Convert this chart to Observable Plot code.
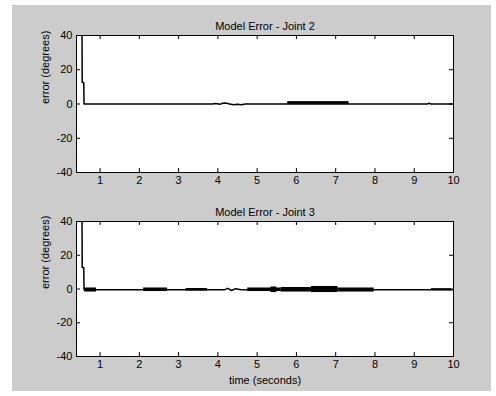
<!DOCTYPE html>
<html>
<head>
<meta charset="utf-8">
<script src="https://cdn.jsdelivr.net/npm/d3@7"></script>
<script src="https://cdn.jsdelivr.net/npm/@observablehq/plot@0.6"></script>
<style>
  html, body { margin: 0; padding: 0; background: #fff; }
  #page { position: relative; width: 496px; height: 396px; background: #fff; overflow: hidden; }
  #bg { position: absolute; left: 12px; top: 5px; width: 479px; height: 386px; background: #cccccc; }
  .panel { position: absolute; left: 0; }
</style>
</head>
<body>
<div id="page"><div id="bg"></div></div>
<script>
// ---- data ----
const titles = ["Model Error - Joint 2", "Model Error - Joint 3"];
const yLabel = "error (degrees)";
const xLabel = "time (seconds)";
const xTicks = [1, 2, 3, 4, 5, 6, 7, 8, 9, 10];
const yTicks = [-40, -20, 0, 20, 40];
const xDomain = [0.4, 10];
const yDomain = [-40, 40];

// Joint 2 error trace
const time2 = [0.54, 0.541, 0.545, 0.585, 0.592, 1.0, 2.0, 3.0, 3.85, 3.95, 4.05, 4.12, 4.2, 4.3, 4.4, 4.5, 4.6, 4.7, 4.8, 5.0, 6.0, 7.0, 8.0, 9.34, 9.38, 9.42, 10.0];
const err2  = [80, 40, 12.6, 12.6, 0, 0, 0, 0, 0, 0.3, -0.2, 0.4, 0.6, 0, -0.5, -0.1, -0.4, 0, 0, 0, 0, 0, 0, 0, 0.5, 0, 0];
// Joint 2 oscillation bands: start, end, low, high
const band2Start = [5.78];
const band2End   = [7.34];
const band2Low   = [-0.2];
const band2High  = [1.4];

// Joint 3 error trace
const time3 = [0.54, 0.541, 0.545, 0.585, 0.592, 1.0, 2.0, 3.0, 4.0, 4.16, 4.25, 4.35, 4.45, 4.59, 5.0, 6.0, 7.0, 8.0, 9.0, 10.0];
const err3  = [80, 40, 12.7, 12.7, -0.5, -0.5, -0.5, -0.5, -0.5, -0.5, 0.4, -0.9, 0.2, -0.5, -0.5, -0.5, -0.5, -0.5, -0.5, -0.5];
// Joint 3 oscillation bands
const band3Start = [0.61, 2.11, 3.19, 4.76, 5.35, 5.61, 6.38, 7.06, 9.44];
const band3End   = [0.91, 2.72, 3.74, 5.61, 5.50, 6.38, 7.06, 7.98, 9.95];
const band3Low   = [-1.8, -1.5, -1.2, -1.5, -2.1, -1.8, -2.1, -1.8, -1.0];
const band3High  = [ 0.6,  0.6,  0.3,  0.6,  1.2,  0.9,  1.5,  0.6,  0.2];

// ---- drawing ----
const font = "'Liberation Sans', Arial, Helvetica, sans-serif";

function panel({title, time, err, bStart, bEnd, bLow, bHigh, top, height, mTop, mBottom, xlab}) {
  const W = 496, mLeft = 76, mRight = 43;
  const frameW = W - mLeft - mRight;
  const frameH = height - mTop - mBottom;
  const pts = time.map((t, i) => ({t, v: err[i]}));
  const bands = bStart.map((s, i) => ({s, e: bEnd[i], lo: bLow[i], hi: bHigh[i]}));
  const marks = [
    Plot.frame({fill: "white", stroke: "none"}),
    Plot.rect(bands, {x1: "s", x2: "e", y1: "lo", y2: "hi", fill: "#000"}),
    Plot.line(pts, {x: "t", y: "v", stroke: "#000", strokeWidth: 1.5, clip: true}),
    Plot.frame({stroke: "#000", strokeWidth: 1}),
    Plot.ruleX(xTicks, {x: d => d, insetTop: frameH - 4, stroke: "#000"}),
    Plot.ruleX(xTicks, {x: d => d, insetBottom: frameH - 4, stroke: "#000"}),
    Plot.ruleY(yTicks, {y: d => d, insetRight: frameW - 4, stroke: "#000"}),
    Plot.ruleY(yTicks, {y: d => d, insetLeft: frameW - 4, stroke: "#000"}),
    Plot.axisX(xTicks, {tickSize: 0, tickPadding: 4, label: null, fill: "#000", tickFormat: d => String(d)}),
    Plot.axisY(yTicks, {tickSize: 0, tickPadding: 4, label: null, fill: "#000", tickFormat: d => String(d)}),
    Plot.text([title], {frameAnchor: "top", dy: -13, fill: "#000"}),
    Plot.text([yLabel], {frameAnchor: "left", dx: -31, rotate: -90, fill: "#000"})
  ];
  if (xlab) marks.push(Plot.text([xlab], {frameAnchor: "bottom", dy: 27, fill: "#000"}));
  const svg = Plot.plot({
    width: W, height,
    marginLeft: mLeft, marginRight: mRight, marginTop: mTop, marginBottom: mBottom,
    x: {domain: xDomain},
    y: {domain: yDomain},
    style: {background: "transparent", fontSize: "11px", fontFamily: font, color: "#000", overflow: "visible"},
    marks
  });
  svg.classList.add("panel");
  svg.style.top = top + "px";
  svg.style.position = "absolute";
  document.getElementById("page").appendChild(svg);
}

panel({title: titles[0], time: time2, err: err2, bStart: band2Start, bEnd: band2End, bLow: band2Low, bHigh: band2High,
       top: 0, height: 190, mTop: 35, mBottom: 18});
panel({title: titles[1], time: time3, err: err3, bStart: band3Start, bEnd: band3End, bLow: band3Low, bHigh: band3High,
       top: 190, height: 206, mTop: 31, mBottom: 40, xlab: xLabel});
</script>
</body>
</html>
